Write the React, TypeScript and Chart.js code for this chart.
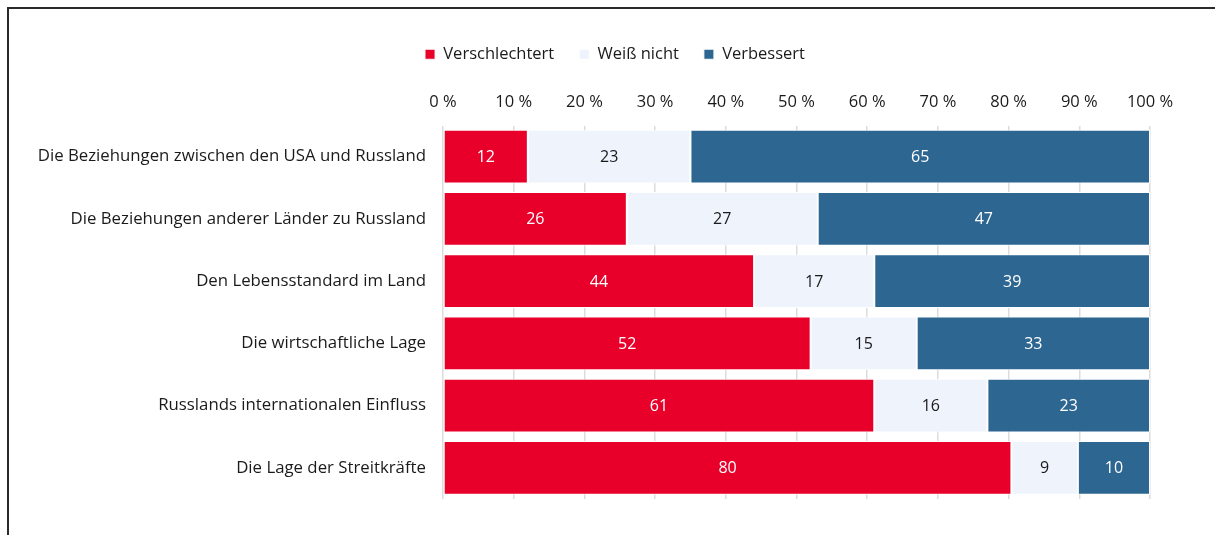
import React, { useEffect, useRef } from "react";
import { Chart, registerables } from "chart.js";

Chart.register(...registerables);

const categories = [
  "Die Beziehungen zwischen den USA und Russland",
  "Die Beziehungen anderer Länder zu Russland",
  "Den Lebensstandard im Land",
  "Die wirtschaftliche Lage",
  "Russlands internationalen Einfluss",
  "Die Lage der Streitkräfte",
];
const worse = [12, 26, 44, 52, 61, 80.4];
const dontKnow = [23, 27, 17, 15, 16, 9.4];
const better = [65, 47, 39, 33, 23, 10.2];
const seriesNames = ["Verschlechtert", "Weiß nicht", "Verbessert"];
const tickValues = [0, 10, 20, 30, 40, 50, 60, 70, 80, 90, 100];
const colors = ["#E8002A", "#EEF3FC", "#2D6791"];
const labelColors = ["#ffffff", "#1a1a1a", "#ffffff"];

const FONT = "'Open Sans', 'Noto Sans', sans-serif";

const valueLabels = {
  id: "valueLabels",
  afterDatasetsDraw(chart: any) {
    const ctx = chart.ctx;
    ctx.save();
    ctx.font = `16px ${FONT}`;
    ctx.textAlign = "center";
    ctx.textBaseline = "middle";
    chart.data.datasets.forEach((ds: any, i: number) => {
      const meta = chart.getDatasetMeta(i);
      meta.data.forEach((bar: any, j: number) => {
        const v = ds.data[j];
        const props = bar.getProps(["x", "y", "base"], true);
        ctx.fillStyle = labelColors[i];
        ctx.fillText(String(Math.round(v)), (props.x + props.base) / 2, props.y + 1);
      });
    });
    ctx.restore();
  },
};

const legendShift = {
  id: "legendShift",
  afterLayout(chart: any) {
    if (chart.legend) {
      chart.legend.left += 36;
      chart.legend.right += 36;
    }
  },
};

export default function App() {
  const ref = useRef<HTMLCanvasElement>(null);
  useEffect(() => {
    const chart = new Chart(ref.current!, {
      type: "bar",
      data: {
        labels: categories,
        datasets: [worse, dontKnow, better].map((d, i) => ({
          label: seriesNames[i],
          data: d,
          backgroundColor: colors[i],
          borderColor: "rgba(255,255,255,0.9)",
          borderWidth: 1,
          borderSkipped: false,
          barPercentage: 0.86,
          categoryPercentage: 1,
        })),
      },
      options: {
        indexAxis: "y",
        animation: false,
        responsive: true,
        maintainAspectRatio: false,
        layout: { padding: { top: 13, right: 57, bottom: 28, left: 0 } },
        plugins: {
          legend: {
            position: "top",
            labels: {
              boxWidth: 10,
              boxHeight: 10,
              padding: 25,
              color: "#1a1a1a",
              font: { family: FONT, size: 16.5 },
            },
          },
          tooltip: { enabled: false },
        },
        scales: {
          x: {
            position: "top",
            stacked: true,
            min: 0,
            max: 100,
            afterBuildTicks: (s: any) => {
              s.ticks = tickValues.map((v) => ({ value: v }));
            },
            ticks: {
              padding: 13,
              color: "#1a1a1a",
              font: { family: FONT, size: 16.5 },
              callback: (v: any) => `${v} %`,
            },
            grid: { color: "#dcdcdc", lineWidth: 1.5, drawTicks: false },
            border: { display: false },
            afterFit: (s: any) => {
              s.height = 53;
            },
          },
          y: {
            stacked: true,
            ticks: {
              padding: 9,
              color: "#1a1a1a",
              font: { family: FONT, size: 16.8 },
            },
            grid: { display: false },
            border: { display: false },
            afterFit: (s: any) => {
              s.width = 435;
            },
          },
        },
      },
      plugins: [valueLabels, legendShift],
    });
    return () => chart.destroy();
  }, []);
  return (
    <>
      <div
        style={{
          position: "fixed",
          left: 7,
          top: 7,
          width: 1208,
          height: 528,
          borderTop: "2px solid #2a2a2a",
          borderLeft: "2px solid #2a2a2a",
          boxSizing: "border-box",
          pointerEvents: "none",
        }}
      />
      <div style={{ position: "relative", width: 1199, height: 519 }}>
        <canvas ref={ref} />
      </div>
    </>
  );
}
